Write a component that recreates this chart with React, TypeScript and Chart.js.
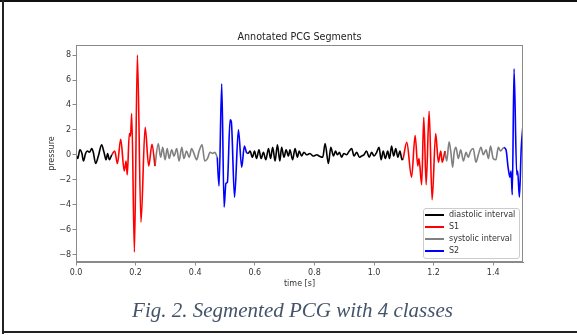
import React, { useEffect, useRef } from "react";
import { Chart, registerables } from "chart.js";

Chart.register(...registerables);

// ---- axes ----
const xTicks = [0, 0.2, 0.4, 0.6, 0.8, 1.0, 1.2, 1.4];
const yTicks = [-8, -6, -4, -2, 0, 2, 4, 6, 8];
const X_MIN = 0;
const X_MAX = 1.5;
const Y_MIN = -8.6;
const Y_MAX = 8.8;

// ---- segments (time [s], pressure) ----
const dia1T = [0.0, 0.006, 0.013, 0.02, 0.025, 0.032, 0.038, 0.045, 0.053, 0.058, 0.066, 0.075, 0.086, 0.094, 0.101, 0.106, 0.112, 0.12];
const dia1V = [0.0, -0.3, 0.4, 0.1, -0.5, 0.1, 0.3, 0.2, 0.5, 0.2, -0.7, -0.1, 0.8, 0.2, -0.4, 0.1, -0.4, 0.0];

const s1aT = [0.12, 0.13, 0.139, 0.15, 0.162, 0.168, 0.172, 0.179, 0.183, 0.187, 0.196, 0.206, 0.218, 0.232, 0.244, 0.255, 0.265];
const s1aV = [0.0, 0.3, -0.7, 1.25, -1.3, -0.5, -1.6, 1.7, 1.5, 3.3, -7.8, 8.0, -5.4, 2.2, -0.9, 0.85, -0.9];

const sys1T = [0.265, 0.276, 0.284, 0.291, 0.299, 0.306, 0.313, 0.321, 0.329, 0.338, 0.346, 0.355, 0.362, 0.371, 0.38, 0.388, 0.396, 0.405, 0.413, 0.423, 0.432, 0.441, 0.45, 0.459, 0.466, 0.474];
const sys1V = [-0.9, 0.9, -0.2, 0.6, -0.4, 0.5, -0.3, 0.4, -0.1, 0.5, -0.5, 0.6, -0.3, 0.3, -0.2, 0.5, 0.1, -0.4, 0.3, 0.8, -0.5, -0.3, 0.2, 0.1, 0.2, -0.2];

const s2aT = [0.474, 0.48, 0.489, 0.497, 0.503, 0.508, 0.517, 0.521, 0.532, 0.545, 0.556, 0.565, 0.572, 0.578];
const s2aV = [-0.2, -2.5, 5.7, -4.2, -2.3, -2.2, 2.8, 2.7, -3.4, 2.0, -1.0, 0.7, 0.2, 0.1];

const dia2T = [0.578, 0.584, 0.592, 0.599, 0.606, 0.614, 0.621, 0.629, 0.637, 0.646, 0.653, 0.66, 0.668, 0.676, 0.684, 0.69, 0.698, 0.705, 0.713, 0.718, 0.727, 0.735, 0.743, 0.749, 0.757, 0.765, 0.774, 0.785, 0.796, 0.808, 0.816, 0.828, 0.836, 0.847, 0.855, 0.864, 0.871, 0.877, 0.884, 0.891, 0.899, 0.908, 0.917, 0.925, 0.933, 0.942, 0.951, 0.958, 0.966, 0.975, 0.984, 0.992, 1.0, 1.009, 1.017, 1.024, 1.031, 1.038, 1.046, 1.052, 1.059, 1.066, 1.073, 1.08, 1.087, 1.094, 1.098];
const dia2V = [0.1, 0.3, -0.2, 0.3, -0.3, 0.4, -0.3, 0.2, -0.4, 0.5, -0.3, 0.6, -0.5, 0.8, -0.5, 0.6, -0.2, 0.4, -0.1, 0.4, -0.4, 0.5, -0.2, 0.3, -0.1, 0.2, 0.0, 0.1, -0.1, 0.0, -0.1, -0.2, 0.9, -0.7, 0.6, -0.1, 0.3, 0.0, 0.2, -0.2, 0.1, 0.0, 0.3, 0.5, -0.1, 0.2, -0.2, -0.1, 0.0, 0.3, -0.2, 0.2, -0.1, 0.2, 0.6, -0.4, 0.3, -0.3, 0.3, -0.3, 0.7, -0.1, 0.5, -0.2, 0.3, -0.4, -0.3];

const s1bT = [1.098, 1.11, 1.126, 1.138, 1.147, 1.151, 1.16, 1.167, 1.175, 1.185, 1.195, 1.207, 1.216, 1.224, 1.229, 1.238];
const s1bV = [-0.3, 1.0, -1.8, 1.55, -0.9, -0.3, -2.4, 3.0, -2.4, 3.5, -3.6, 1.7, -0.6, 0.3, -0.6, 0.3];

const sys2T = [1.238, 1.244, 1.252, 1.258, 1.264, 1.269, 1.275, 1.283, 1.291, 1.3, 1.309, 1.316, 1.324, 1.333, 1.342, 1.35, 1.359, 1.367, 1.376, 1.384, 1.391, 1.4, 1.409, 1.417, 1.425, 1.432, 1.436];
const sys2V = [0.3, -0.5, 1.05, 0.2, -1.0, 0.2, 0.6, -0.3, 0.4, -0.5, 0.2, -0.2, 0.3, 0.5, -0.6, 0.0, 0.6, 0.0, 0.4, -0.3, 0.7, -0.3, -0.4, 0.6, 0.3, 0.5, 0.6];

const s2bT = [1.436, 1.443, 1.45, 1.456, 1.46, 1.464, 1.47, 1.479, 1.482, 1.488, 1.494, 1.5];
const s2bV = [0.6, 0.4, -1.0, -1.8, -1.3, -3.2, 6.9, -1.6, -1.3, -3.4, 0.5, 2.4];

// ---- classes ----
const classLabels = ["diastolic interval", "S1", "systolic interval", "S2"];
const classColors = ["#000000", "#ff0000", "#808080", "#0000ff"];
const classSegments: [number[], number[]][][] = [
  [[dia1T, dia1V], [dia2T, dia2V]],
  [[s1aT, s1aV], [s1bT, s1bV]],
  [[sys1T, sys1V], [sys2T, sys2V]],
  [[s2aT, s2aV], [s2bT, s2bV]],
];

function joinSegments(segs: [number[], number[]][]) {
  const out: { x: number; y: number | null }[] = [];
  segs.forEach(([t, v], i) => {
    if (i > 0) out.push({ x: t[0], y: null });
    t.forEach((x, j) => out.push({ x, y: v[j] }));
  });
  return out;
}

const AX = "#8a8a8a";
const TXT = "#333333";
const FONT = "'DejaVu Sans', sans-serif";

const framePlugin = {
  id: "frame",
  afterDatasetsDraw(chart: any) {
    const { ctx, chartArea: a } = chart;
    ctx.save();
    ctx.strokeStyle = AX;
    ctx.lineWidth = 1;
    const l = Math.round(a.left) + 0.5;
    const t = Math.round(a.top) + 0.5;
    const r = Math.round(a.right) - 0.5;
    const b = Math.round(a.bottom) - 0.5;
    ctx.strokeRect(l, t, r - l, b - t);
    ctx.restore();
  },
};

export default function App() {
  const ref = useRef<HTMLCanvasElement | null>(null);

  useEffect(() => {
    if (!ref.current) return;
    const chart = new Chart(ref.current, {
      type: "line",
      data: {
        datasets: classLabels.map((label, i) => ({
          label,
          data: joinSegments(classSegments[i]),
          borderColor: classColors[i],
          backgroundColor: classColors[i],
          borderWidth: 1.6,
          pointRadius: 0,
          fill: false,
          cubicInterpolationMode: "monotone",
          spanGaps: false,
        })),
      },
      options: {
        responsive: false,
        animation: false,
        devicePixelRatio: 1,
        layout: { padding: { left: 0, right: 54, top: 0, bottom: 0 } },
        plugins: {
          legend: { display: false },
          tooltip: { enabled: false },
          title: {
            display: true,
            text: "Annotated PCG Segments",
            fullSize: false,
            color: "#222",
            font: { family: FONT, size: 9.6, weight: "normal" },
            padding: { top: 31.3, bottom: 2.3 },
          },
        },
        scales: {
          x: {
            type: "linear",
            min: X_MIN,
            max: X_MAX,
            afterBuildTicks: (s: any) => {
              s.ticks = xTicks.map((value) => ({ value }));
            },
            afterFit: (s: any) => {
              s.height = 38;
            },
            ticks: {
              callback: (v: any) => Number(v).toFixed(1),
              color: TXT,
              font: { family: FONT, size: 8 },
              padding: 2.2,
              autoSkip: false,
              maxRotation: 0,
            },
            grid: { drawOnChartArea: false, drawTicks: true, tickLength: 3.5, color: AX, lineWidth: 1 },
            border: { display: true, color: AX, width: 1 },
            title: {
              display: true,
              text: "time [s]",
              color: TXT,
              font: { family: FONT, size: 8 },
              padding: { top: 0, bottom: 11.2 },
            },
          },
          y: {
            type: "linear",
            min: Y_MIN,
            max: Y_MAX,
            afterBuildTicks: (s: any) => {
              s.ticks = yTicks.map((value) => ({ value }));
            },
            afterFit: (s: any) => {
              s.width = 76;
            },
            ticks: {
              callback: (v: any) => (Number(v) < 0 ? "\u2212" + Math.abs(Number(v)) : String(v)),
              color: TXT,
              font: { family: FONT, size: 8 },
              padding: 1.5,
              autoSkip: false,
            },
            grid: { drawOnChartArea: false, drawTicks: true, tickLength: 3.5, color: AX, lineWidth: 1 },
            border: { display: true, color: AX, width: 1 },
            title: {
              display: true,
              text: "pressure",
              color: TXT,
              font: { family: FONT, size: 8 },
              padding: { top: 47.2, bottom: 0 },
            },
          },
        },
      } as any,
      plugins: [framePlugin],
    } as any);
    return () => chart.destroy();
  }, []);

  return (
    <div style={{ position: "absolute", left: 0, top: 0, width: 577, height: 335, background: "#fff", overflow: "hidden" }}>
      <canvas ref={ref} width={577} height={300} style={{ position: "absolute", left: 0, top: 0, width: 577, height: 300 }} />
      {/* legend */}
      <div
        style={{
          position: "absolute",
          left: 423,
          top: 208,
          width: 97,
          height: 51,
          boxSizing: "border-box",
          border: "1px solid #cccccc",
          borderRadius: 3,
          background: "rgba(255,255,255,0.85)",
          fontFamily: FONT,
          fontSize: 8,
          color: TXT,
        }}
      >
        {classLabels.map((label, i) => (
          <div key={label} style={{ position: "relative", height: 12, lineHeight: "12px", whiteSpace: "nowrap" }}>
            <span
              style={{
                position: "absolute",
                left: 1,
                top: 5.2,
                width: 19,
                height: 1.6,
                background: classColors[i],
              }}
            />
            <span style={{ position: "absolute", left: 25, top: 0 }}>{label}</span>
          </div>
        ))}
      </div>
      {/* caption */}
      <div
        style={{
          position: "absolute",
          left: 8,
          width: 569,
          top: 298,
          textAlign: "center",
          fontFamily: "'Liberation Serif', 'Times New Roman', serif",
          fontStyle: "italic",
          fontSize: 21,
          lineHeight: "24px",
          color: "#44546A",
          whiteSpace: "nowrap",
        }}
      >
        Fig. 2. Segmented PCG with 4 classes
      </div>
      {/* outer frame */}
      <div style={{ position: "absolute", left: 0, top: 0, width: 577, height: 2, background: "#111" }} />
      <div style={{ position: "absolute", left: 2, top: 0, width: 2, height: 334, background: "#222" }} />
      <div style={{ position: "absolute", left: 2, top: 331, width: 575, height: 2, background: "#222" }} />
    </div>
  );
}
